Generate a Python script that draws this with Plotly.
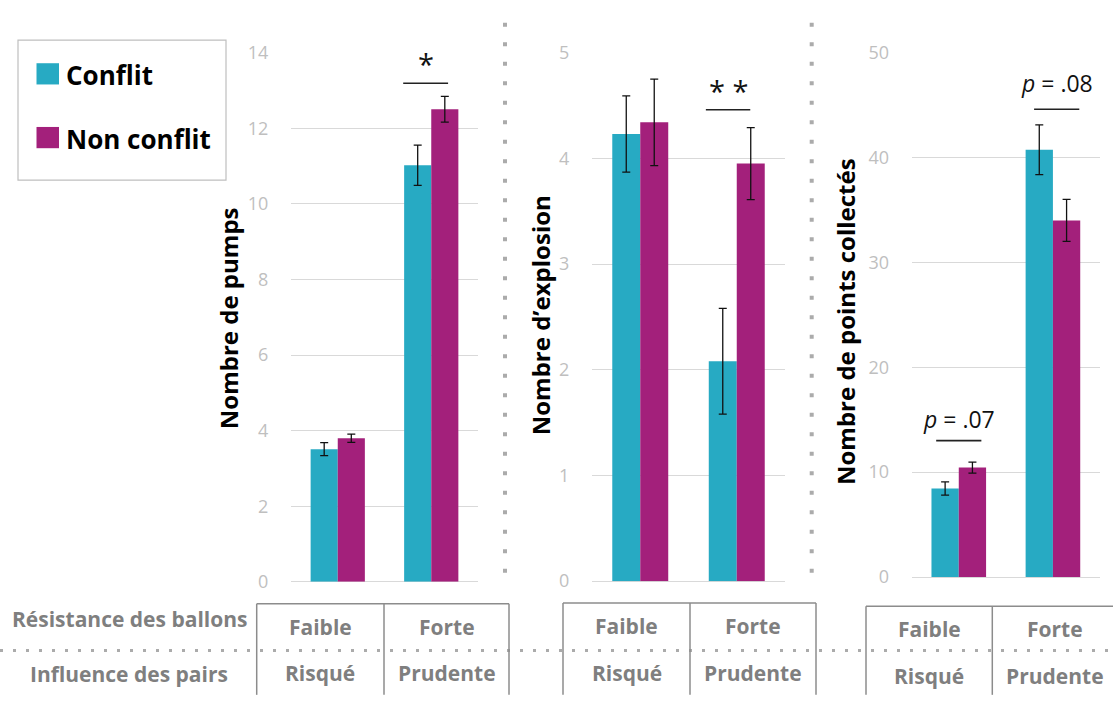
import plotly.graph_objects as go

# ---------------- data ----------------
categories = ["Faible", "Forte"]
influence = ["Risqué", "Prudente"]
series_names = ["Conflit", "Non conflit"]

pumps_conflit = [3.51, 11.02]
pumps_conflit_err = [0.17, 0.53]
pumps_non = [3.80, 12.50]
pumps_non_err = [0.11, 0.34]

explo_conflit = [4.23, 2.08]
explo_conflit_err = [0.36, 0.50]
explo_non = [4.34, 3.95]
explo_non_err = [0.41, 0.34]

points_conflit = [8.44, 40.73]
points_conflit_err = [0.63, 2.37]
points_non = [10.43, 34.0]
points_non_err = [0.52, 2.00]

y_titles = ["Nombre de pumps", "Nombre d\u2019explosion", "Nombre de points collectés"]
y_ranges = [[0, 14], [0, 5], [0, 50]]
y_dticks = [2, 1, 10]

# significance markers: (panel, category index, line y, text y, text, x offsets)
sig_marks = [
    (1, 1, 13.19, 13.72, "*", -0.30, 0.18),
    (2, 1, 4.46, 4.64, "* *", -0.32, 0.14),
    (3, 0, 13.0, 15.1, "<i>p</i> = .07", -0.24, 0.24),
    (3, 1, 44.6, 47.1, "<i>p</i> = .08", -0.20, 0.28),
]

# ---------------- style ----------------
W, H = 1113, 701
C_TEAL = "#27AAC3"
C_MAG = "#A3207B"
FONT = "Open Sans"
GRID = "#D9D9D9"
TICK_C = "#BFBFBF"
TABLE_C = "#7F7F7F"
BORDER_C = "#8C8C8C"
DOT_C = "#ABABAB"


def px(x):
    return x / W


def py(y):
    return 1 - y / H


x_domains = [[px(291), px(478)], [px(592), px(785)], [px(911.7), px(1100)]]
y_domains = [[py(589), py(41)], [py(588.3), py(41)], [py(584), py(41)]]

fig = go.Figure()

panels = [
    (pumps_conflit, pumps_conflit_err, pumps_non, pumps_non_err),
    (explo_conflit, explo_conflit_err, explo_non, explo_non_err),
    (points_conflit, points_conflit_err, points_non, points_non_err),
]

for i, (c, ce, n, ne) in enumerate(panels):
    suffix = "" if i == 0 else str(i + 1)
    for vals, errs, col, name in [(c, ce, C_TEAL, series_names[0]), (n, ne, C_MAG, series_names[1])]:
        fig.add_trace(go.Bar(
            x=categories, y=vals, name=name, marker=dict(color=col, line=dict(width=0)),
            error_y=dict(type="data", array=errs, visible=True, color="#111111", thickness=1.3, width=4),
            xaxis="x" + suffix, yaxis="y" + suffix, showlegend=False, cliponaxis=False,
            hoverinfo="skip",
        ))
    fig.layout["xaxis" + suffix] = dict(
        domain=x_domains[i], anchor="y" + suffix, type="category",
        showticklabels=False, showgrid=False, zeroline=False, showline=False,
        range=[-0.5, 1.5], fixedrange=True,
    )
    fig.layout["yaxis" + suffix] = dict(
        domain=y_domains[i], anchor="x" + suffix, range=y_ranges[i], dtick=y_dticks[i],
        showgrid=True, gridcolor=GRID, gridwidth=1, zeroline=True, zerolinecolor=GRID,
        zerolinewidth=1, showline=False, ticks="outside", ticklen=18,
        tickcolor="rgba(0,0,0,0)", tickfont=dict(family=FONT, size=18, color=TICK_C),
        fixedrange=True,
    )

shapes = []
annotations = []

# y axis titles
title_x = [228, 540, 845]
title_y = [316, 313, 320]
for t, xx, yy in zip(y_titles, title_x, title_y):
    annotations.append(dict(
        text="<b>" + t + "</b>", x=px(xx), y=py(yy), xref="paper", yref="paper",
        textangle=-90, showarrow=False, xanchor="center", yanchor="middle",
        font=dict(family=FONT, size=24, color="#000000"),
    ))

# significance lines / texts
for panel, idx, ly, ty, txt, o0, o1 in sig_marks:
    suffix = "" if panel == 1 else str(panel)
    shapes.append(dict(type="line", xref="x" + suffix, yref="y" + suffix,
                       x0=idx + o0, x1=idx + o1, y0=ly, y1=ly,
                       line=dict(color="#222222", width=1.6)))
    is_star = "*" in txt
    annotations.append(dict(
        text=txt, x=idx + (o0 + o1) / 2, y=ty, xref="x" + suffix, yref="y" + suffix,
        showarrow=False, xanchor="center", yanchor="middle",
        font=dict(family=FONT, size=29 if is_star else 23, color="#111111"),
    ))

# vertical dotted separators
for xs, y1 in [(505, 592), (811.7, 590)]:
    shapes.append(dict(type="line", xref="paper", yref="paper",
                       x0=px(xs), x1=px(xs), y0=py(10), y1=py(y1),
                       line=dict(color=DOT_C, width=4, dash="4px,15.5px")))

# horizontal dotted line through table
shapes.append(dict(type="line", xref="paper", yref="paper",
                   x0=0, x1=1, y0=py(660), y1=py(660),
                   line=dict(color=DOT_C, width=3, dash="3px,10px")))

# tables under each panel
boxes = [(256.7, 384, 509, 611.7), (563, 690, 816, 611), (866, 992.3, 1120, 614.3)]
for left, mid, right, top in boxes:
    shapes.append(dict(type="line", xref="paper", yref="paper",
                       x0=px(left), x1=px(min(right, W)), y0=py(top), y1=py(top),
                       line=dict(color=BORDER_C, width=1.5)))
    for xv in (left, mid, right):
        if xv <= W:
            shapes.append(dict(type="line", xref="paper", yref="paper",
                               x0=px(xv), x1=px(xv), y0=py(top), y1=py(H + 5),
                               line=dict(color=BORDER_C, width=1.5)))
    row1 = top + 24
    row2 = top + 72
    cells = [((left + mid) / 2, categories[0], influence[0]),
             ((mid + min(right, 1118)) / 2, categories[1], influence[1])]
    for cx, t1, t2 in cells:
        for t, ry in ((t1, row1), (t2, row2)):
            annotations.append(dict(
                text="<b>" + t + "</b>", x=px(cx), y=py(ry), xref="paper", yref="paper",
                showarrow=False, xanchor="center", yanchor="middle",
                font=dict(family=FONT, size=21, color=TABLE_C),
            ))

# row labels
for t, ry in (("Résistance des ballons", 628), ("Influence des pairs", 684)):
    annotations.append(dict(
        text="<b>" + t + "</b>", x=px(129), y=py(ry), xref="paper", yref="paper",
        showarrow=False, xanchor="center", yanchor="middle",
        font=dict(family=FONT, size=21, color=TABLE_C),
    ))

# legend (drawn manually)
shapes.append(dict(type="rect", xref="paper", yref="paper",
                   x0=px(18), x1=px(226), y0=py(173), y1=py(28),
                   line=dict(color="#BFBFBF", width=1.2), fillcolor="white"))
for name, col, yc in ((series_names[0], C_TEAL, 63), (series_names[1], C_MAG, 129)):
    shapes.append(dict(type="rect", xref="paper", yref="paper",
                       x0=px(36.5), x1=px(59), y0=py(yc + 11), y1=py(yc - 11),
                       line=dict(width=0), fillcolor=col))
    annotations.append(dict(
        text="<b>" + name + "</b>", x=px(64), y=py(yc + 1), xref="paper", yref="paper",
        showarrow=False, xanchor="left", yanchor="middle",
        font=dict(family=FONT, size=26, color="#000000"),
    ))

fig.update_layout(
    autosize=True, margin=dict(l=0, r=0, t=0, b=0, pad=0),
    paper_bgcolor="white", plot_bgcolor="white",
    barmode="group", bargap=0.42, bargroupgap=0,
    shapes=shapes, annotations=annotations, showlegend=False,
    font=dict(family=FONT), hovermode=False,
)

fig.write_html(
    "out.html",
    config={"displayModeBar": False, "responsive": True},
    default_width="100vw",
    default_height="100vh",
    post_script="document.body.style.margin='0';document.documentElement.style.overflow='hidden';",
)
